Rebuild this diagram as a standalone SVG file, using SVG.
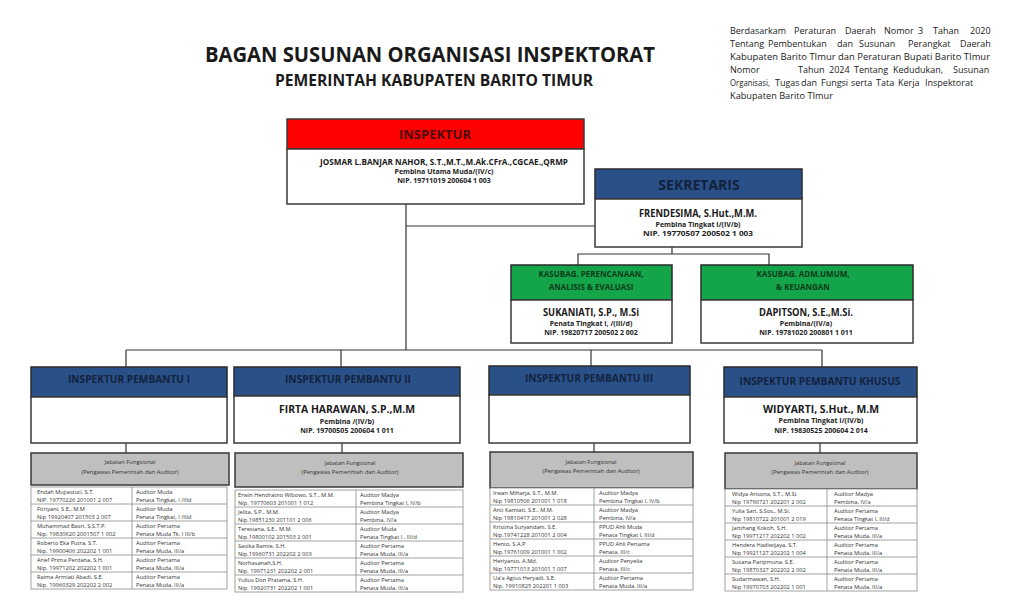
<svg xmlns="http://www.w3.org/2000/svg" width="1024" height="616" viewBox="0 0 1024 616">
<style>
text{font-family:"Open Sans","Liberation Sans",sans-serif;fill:#1a1a1a}
.b{font-weight:bold}
.c{text-anchor:middle}
.para{font-size:9px;fill:#222}
.box{fill:#fff;stroke:#3a3a3a;stroke-width:1.5}
.red{fill:#ff0000;stroke:#3a3a3a;stroke-width:1.5}
.blue{fill:#2a5088;stroke:#2a2a2a;stroke-width:1.5}
.green{fill:#14a54a;stroke:#2a2a2a;stroke-width:1.5}
.gray{fill:#bfbfbf;stroke:#3a3a3a;stroke-width:1.5}
.hdrR{font-size:13px;font-weight:bold;fill:#4a0c0c}
.hdrB{font-size:10.5px;font-weight:bold;fill:#13223d}
.hdrG{font-size:8px;font-weight:bold;fill:#0b3a18}
.nm{font-size:11px;font-weight:bold}
.sm{font-size:7px;fill:#222}
.th{font-size:5.8px;fill:#333;text-anchor:middle}
.td{font-size:5.7px;fill:#333}
.row{fill:#fff;stroke:#8a8a8a;stroke-width:0.8}
.conn{fill:none;stroke:#333;stroke-width:1.2}
</style>

<g id="title">
<text class="b" x="205" y="62" font-size="21" textLength="450" lengthAdjust="spacingAndGlyphs">BAGAN SUSUNAN ORGANISASI INSPEKTORAT</text>
<text class="b" x="275" y="86" font-size="16" textLength="318" lengthAdjust="spacingAndGlyphs">PEMERINTAH KABUPATEN BARITO TIMUR</text>
</g>

<g id="legal-basis">
<text class="para" y="33.5"><tspan x="730">Berdasarkam</tspan><tspan x="794">Peraturan</tspan><tspan x="845">Daerah</tspan><tspan x="884">Nomor</tspan><tspan x="918">3</tspan><tspan x="933">Tahan</tspan><tspan x="970">2020</tspan></text>
<text class="para" y="46.5"><tspan x="730">Tentang</tspan><tspan x="768">Pembentukan</tspan><tspan x="837">dan</tspan><tspan x="859">Susunan</tspan><tspan x="908">Perangkat</tspan><tspan x="960">Daerah</tspan></text>
<text class="para" x="730" y="59.5" textLength="260" lengthAdjust="spacingAndGlyphs">Kabupaten Barito TImur dan Peraturan Bupati Barito TImur</text>
<text class="para" y="72.5"><tspan x="730">Nomor</tspan><tspan x="798">Tahun</tspan><tspan x="829">2024</tspan><tspan x="854">Tentang</tspan><tspan x="893">Kedudukan,</tspan><tspan x="953">Susunan</tspan></text>
<text class="para" y="85.5"><tspan x="730" textLength="40" lengthAdjust="spacingAndGlyphs">Organisasi,</tspan><tspan x="775">Tugas</tspan><tspan x="801">dan</tspan><tspan x="821">Fungsi</tspan><tspan x="851">serta</tspan><tspan x="876">Tata</tspan><tspan x="898">Kerja</tspan><tspan x="925">Inspektorat</tspan></text>
<text class="para" x="730" y="98.5" textLength="103" lengthAdjust="spacingAndGlyphs">Kabupaten Barito TImur</text>
</g>

<g id="connectors">
<polyline class="conn" points="406,204 406,350"/>
<polyline class="conn" points="406,226 595,226"/>
<polyline class="conn" points="672,247 672,254"/>
<polyline class="conn" points="578,265 578,254 769,254 769,265"/>
<polyline class="conn" points="126,350 822,350"/>
<polyline class="conn" points="126,350 126,367"/>
<polyline class="conn" points="341,350 341,367"/>
<polyline class="conn" points="591,350 591,366"/>
<polyline class="conn" points="822,350 822,367"/>
<polyline class="conn" points="126,443 126,453"/>
<polyline class="conn" points="342,443 342,453"/>
<polyline class="conn" points="594,443 594,452"/>
<polyline class="conn" points="820,443 820,453"/>
</g>

<g id="inspektur">
<rect class="red" x="287" y="119" width="297" height="30"/>
<rect class="box" x="287" y="149" width="297" height="55"/>
<text class="hdrR c" x="435" y="139">INSPEKTUR</text>
<text class="b" x="320" y="165" font-size="9.5" textLength="248" lengthAdjust="spacingAndGlyphs">JOSMAR L.BANJAR NAHOR, S.T.,M.T.,M.Ak.CFrA.,CGCAE.,QRMP</text>
<text class="sm b c" x="444" y="174" font-size="6.8">Pembina Utama Muda/(IV/c)</text>
<text class="sm b c" x="444" y="183" font-size="6.8">NIP. 19711019 200604 1 003</text>
</g>

<g id="sekretaris">
<rect class="blue" x="595" y="169" width="207" height="30"/>
<rect class="box" x="595" y="199" width="207" height="48"/>
<text class="c b" x="699" y="190" font-size="14" style="fill:#13223d">SEKRETARIS</text>
<text class="c b" x="698" y="217" font-size="10.5" textLength="118" lengthAdjust="spacingAndGlyphs">FRENDESIMA, S.Hut.,M.M.</text>
<text class="sm b c" x="698" y="227">Pembina Tingkat I/(IV/b)</text>
<text class="sm b c" x="698" y="236" textLength="110" lengthAdjust="spacingAndGlyphs">NIP. 19770507 200502 1 003</text>
</g>

<g id="kasubag-perencanaan">
<rect class="green" x="511" y="265" width="161" height="35"/>
<rect class="box" x="511" y="300" width="161" height="43"/>
<text class="hdrG c" x="591" y="277">KASUBAG. PERENCANAAN,</text>
<text class="hdrG c" x="591" y="290">ANALISIS &amp; EVALUASI</text>
<text class="nm c" x="591" y="316" textLength="96" lengthAdjust="spacingAndGlyphs">SUKANIATI, S.P., M.Si</text>
<text class="sm b c" x="591" y="326" font-size="6.5">Penata Tingkat I, /(III/d)</text>
<text class="sm b c" x="591" y="335" font-size="6.5">NIP. 19820717 200502 2 002</text>
</g>

<g id="kasubag-umum">
<rect class="green" x="701" y="265" width="212" height="35"/>
<rect class="box" x="701" y="300" width="212" height="43"/>
<text class="hdrG c" x="803" y="277">KASUBAG. ADM.UMUM,</text>
<text class="hdrG c" x="803" y="290">&amp; KEUANGAN</text>
<text class="nm c" x="806" y="316" textLength="94" lengthAdjust="spacingAndGlyphs">DAPITSON,  S.E.,M.Si.</text>
<text class="sm b c" x="806" y="326" font-size="6.5">Pembina/(IV/a)</text>
<text class="sm b c" x="806" y="335" font-size="6.5">NIP. 19781020 200801 1 011</text>
</g>

<g id="pembantu-1">
<rect class="blue" x="31" y="367" width="196" height="30"/>
<rect class="box" x="31" y="397" width="196" height="46"/>
<text class="hdrB c" x="129" y="383" textLength="122" lengthAdjust="spacingAndGlyphs">INSPEKTUR PEMBANTU I</text>
</g>

<g id="pembantu-2">
<rect class="blue" x="234" y="367" width="226" height="29"/>
<rect class="box" x="234" y="396" width="226" height="47"/>
<text class="hdrB c" x="348" y="383" textLength="126" lengthAdjust="spacingAndGlyphs">INSPEKTUR PEMBANTU II</text>
<text class="nm c" x="347" y="413" textLength="136" lengthAdjust="spacingAndGlyphs">FIRTA HARAWAN, S.P.,M.M</text>
<text class="sm b c" x="347" y="424" font-size="6.5">Pembina /(IV/b)</text>
<text class="sm b c" x="347" y="433" font-size="6.5">NIP. 19700505 200604 1 011</text>
</g>

<g id="pembantu-3">
<rect class="blue" x="489" y="366" width="201" height="29"/>
<rect class="box" x="489" y="395" width="201" height="48"/>
<text class="hdrB c" x="589" y="382" textLength="128" lengthAdjust="spacingAndGlyphs">INSPEKTUR PEMBANTU III</text>
</g>

<g id="pembantu-khusus">
<rect class="blue" x="724" y="367" width="193" height="30"/>
<rect class="box" x="724" y="397" width="193" height="46"/>
<text class="hdrB c" x="820" y="385" textLength="161" lengthAdjust="spacingAndGlyphs">INSPEKTUR PEMBANTU KHUSUS</text>
<text class="nm c" x="821" y="413" textLength="116" lengthAdjust="spacingAndGlyphs">WIDYARTI, S.Hut., M.M</text>
<text class="sm b c" x="821" y="423" font-size="6.5">Pembina Tingkat I/(IV/b)</text>
<text class="sm b c" x="821" y="433" font-size="6.5">NIP. 19830525 200604 2 014</text>
</g>

<g id="fungsional-1">
<rect class="gray" x="31" y="453" width="198" height="32"/>
<text class="th" x="130" y="464">Jabatan Fungsional</text>
<text class="th" x="130" y="474">(Pengawas Pemerintah dan Auditor)</text>
<rect class="row" x="31" y="487" width="196" height="102"/>
<path class="row" d="M31 504H227M31 521H227M31 538H227M31 555H227M31 572H227M132 487V589"/>
<text class="td"><tspan x="37" y="494">Endah Mujiastuti, S.T.</tspan><tspan x="37" y="502">NIP. 19770226 201001 2 007</tspan><tspan x="136" y="494">Auditor Muda</tspan><tspan x="136" y="502">Penata Tingkat, I /IIId</tspan></text>
<text class="td"><tspan x="37" y="511">Fitriyani, S.E., M.M</tspan><tspan x="37" y="519">Nip 19920407 201503 2 007</tspan><tspan x="136" y="511">Auditor Muda</tspan><tspan x="136" y="519">Penata Tingkat, I /IIId</tspan></text>
<text class="td"><tspan x="37" y="528">Muhammad Basri, S.S.T.P.</tspan><tspan x="37" y="536">Nip. 19830620 2001507 1 002</tspan><tspan x="136" y="528">Auditor Pertama</tspan><tspan x="136" y="536">Penata Muda Tk. I III/b</tspan></text>
<text class="td"><tspan x="37" y="545">Roberto Eka Putra, S.T.</tspan><tspan x="37" y="553">Nip. 19900406 202202 1 001</tspan><tspan x="136" y="545">Auditor Pertama</tspan><tspan x="136" y="553">Penata Muda, III/a</tspan></text>
<text class="td"><tspan x="37" y="562">Arief Prima Perdana, S.H.</tspan><tspan x="37" y="570">Nip. 19971202 202202 1 001</tspan><tspan x="136" y="562">Auditor Pertama</tspan><tspan x="136" y="570">Penata Muda, III/a</tspan></text>
<text class="td"><tspan x="37" y="579">Raima Armiati Abadi, S.E.</tspan><tspan x="37" y="587">Nip. 19960329 202202 2 002</tspan><tspan x="136" y="579">Auditor Pertama</tspan><tspan x="136" y="587">Penata Muda, III/a</tspan></text>
</g>

<g id="fungsional-2">
<rect class="gray" x="235" y="453" width="228" height="34"/>
<text class="th" x="350" y="465">Jabatan Fungsional</text>
<text class="th" x="350" y="474">(Pengawas Pemerintah dan Auditor)</text>
<rect class="row" x="235" y="490" width="228" height="102"/>
<path class="row" d="M235 507H463M235 524H463M235 541H463M235 558H463M235 575H463M356 490V592"/>
<text class="td"><tspan x="238" y="497">Erwin Hendratno Wibowo, S.T., M.M.</tspan><tspan x="238" y="505">Nip. 19770603 201001 1 012</tspan><tspan x="360" y="497">Auditor Madya</tspan><tspan x="360" y="505">Pembina Tingkat I, IV/b</tspan></text>
<text class="td"><tspan x="238" y="514">Jelita, S.P., M.M.</tspan><tspan x="238" y="522">Nip.19851230 201101 2 006</tspan><tspan x="360" y="514">Auditor Madya</tspan><tspan x="360" y="522">Pembina, IV/a</tspan></text>
<text class="td"><tspan x="238" y="531">Teresiana, S.E., M.M.</tspan><tspan x="238" y="539">Nip.19800102 201503 2 001</tspan><tspan x="360" y="531">Auditor Muda</tspan><tspan x="360" y="539">Penata Tingkat I , III/d</tspan></text>
<text class="td"><tspan x="238" y="548">Sasika Ramie, S.H.</tspan><tspan x="238" y="556">Nip.19960731 202202 2 003</tspan><tspan x="360" y="548">Auditor Pertama</tspan><tspan x="360" y="556">Penata Muda, III/a</tspan></text>
<text class="td"><tspan x="238" y="565">Norhasanah,S.H.</tspan><tspan x="238" y="573">Nip. 19971231 202202 2 001</tspan><tspan x="360" y="565">Auditor Pertama</tspan><tspan x="360" y="573">Penata Muda, III/a</tspan></text>
<text class="td"><tspan x="238" y="582">Yulius Don Pratama, S.H.</tspan><tspan x="238" y="590">Nip. 19920731 202202 1 001</tspan><tspan x="360" y="582">Auditor Pertama</tspan><tspan x="360" y="590">Penata Muda, III/a</tspan></text>
</g>

<g id="fungsional-3">
<rect class="gray" x="490" y="452" width="203" height="36"/>
<text class="th" x="591" y="464">Jabatan Fungsional</text>
<text class="th" x="591" y="473">(Pengawas Pemerintah dan Auditor)</text>
<rect class="row" x="490" y="488" width="203" height="102"/>
<path class="row" d="M490 505H693M490 522H693M490 539H693M490 556H693M490 573H693M594 488V590"/>
<text class="td"><tspan x="493" y="495">Irwan Miharja, S.T., M.M.</tspan><tspan x="493" y="503">Nip 19810506 201001 1 018</tspan><tspan x="599" y="495">Auditor Madya</tspan><tspan x="599" y="503">Pembina Tingkat I, IV/b</tspan></text>
<text class="td"><tspan x="493" y="512">Anti Kamiati, S.E., M.M.</tspan><tspan x="493" y="520">Nip 19810417 201001 2 028</tspan><tspan x="599" y="512">Auditor Madya</tspan><tspan x="599" y="520">Pembina, IV/a</tspan></text>
<text class="td"><tspan x="493" y="529">Kristina Suryandani, S.E.</tspan><tspan x="493" y="537">Nip.19741228 201001 2 004</tspan><tspan x="599" y="529">PPUD Ahli Muda</tspan><tspan x="599" y="537">Penata Tingkat I, III/d</tspan></text>
<text class="td"><tspan x="493" y="546">Hento, S.A.P</tspan><tspan x="493" y="554">Nip.19761009 201001 1 002</tspan><tspan x="599" y="546">PPUD Ahli Pertama</tspan><tspan x="599" y="554">Penata, III/c</tspan></text>
<text class="td"><tspan x="493" y="563">Heriyanto, A.Md.</tspan><tspan x="493" y="571">Nip 19771013 201001 1 007</tspan><tspan x="599" y="563">Auditor Penyelia</tspan><tspan x="599" y="571">Penata, III/c</tspan></text>
<text class="td"><tspan x="493" y="580">Ua'a Agtus Heryadi, S.E.</tspan><tspan x="493" y="588">Nip. 19910825 202201 1 003</tspan><tspan x="599" y="580">Auditor Pertama</tspan><tspan x="599" y="588">Penata Muda, III/a</tspan></text>
</g>

<g id="fungsional-4">
<rect class="gray" x="725" y="453" width="192" height="36"/>
<text class="th" x="820" y="465">Jabatan Fungsional</text>
<text class="th" x="820" y="474">(Pengawas Pemerintah dan Auditor)</text>
<rect class="row" x="725" y="489" width="192" height="102"/>
<path class="row" d="M725 506H917M725 523H917M725 540H917M725 557H917M725 574H917M827 489V591"/>
<text class="td"><tspan x="732" y="496">Widya Arisona, S.T., M.Si.</tspan><tspan x="732" y="504">Nip 19790721 202201 2 002</tspan><tspan x="834" y="496">Auditor Madya</tspan><tspan x="834" y="504">Pembina, IV/a</tspan></text>
<text class="td"><tspan x="732" y="513">Yulia Sari, S.Sos., M.Si.</tspan><tspan x="732" y="521">Nip 19810722 201001 2 019</tspan><tspan x="834" y="513">Auditor Pertama</tspan><tspan x="834" y="521">Penata Tingkat I, III/d</tspan></text>
<text class="td"><tspan x="732" y="530">Janthang Kokoh, S.H.</tspan><tspan x="732" y="538">Nip 19971217 202202 1 002</tspan><tspan x="834" y="530">Auditor Pertama</tspan><tspan x="834" y="538">Penata Muda, III/a</tspan></text>
<text class="td"><tspan x="732" y="547">Hendera Hadiwijaya, S.T.</tspan><tspan x="732" y="555">Nip 19921127 202202 1 004</tspan><tspan x="834" y="547">Auditor Pertama</tspan><tspan x="834" y="555">Penata Muda, III/a</tspan></text>
<text class="td"><tspan x="732" y="564">Susana Paripmuna, S.E.</tspan><tspan x="732" y="572">Nip 19870327 202202 2 002</tspan><tspan x="834" y="564">Auditor Pertama</tspan><tspan x="834" y="572">Penata Muda, III/a</tspan></text>
<text class="td"><tspan x="732" y="581">Sudarmawan, S.H.</tspan><tspan x="732" y="589">Nip 19970703 202202 1 001</tspan><tspan x="834" y="581">Auditor Pertama</tspan><tspan x="834" y="589">Penata Muda, III/a</tspan></text>
</g>
</svg>
